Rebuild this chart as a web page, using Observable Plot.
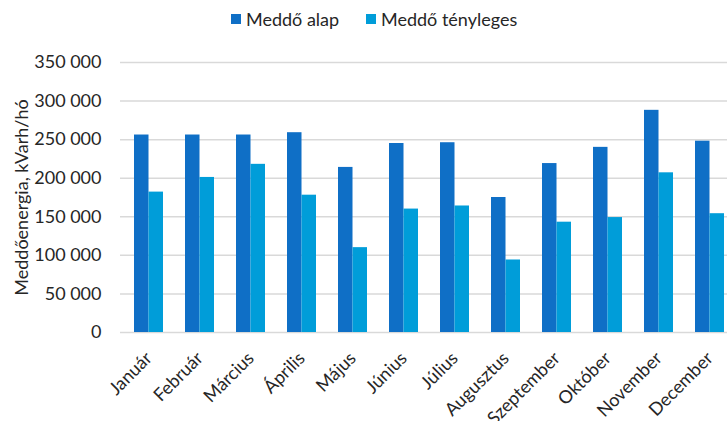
<!DOCTYPE html>
<html>
<head>
<meta charset="utf-8">
<script src="https://cdn.jsdelivr.net/npm/d3@7"></script>
<script src="https://cdn.jsdelivr.net/npm/@observablehq/plot@0.6"></script>
<style>
  html, body { margin: 0; padding: 0; background: #fff; overflow: hidden; }
  #wrap { width: 727px; height: 421px; overflow: hidden; position: relative; font-family: Lato, "Open Sans", sans-serif; }
  #legend { height: 40px; position: relative; font-size: 18px; color: #262626; }
  .sw { display: inline-block; width: 10px; height: 10px; margin-right: 5px; }
  .item { display: flex; align-items: center; position: absolute; top: 8px; }
  #chart svg { display: block; overflow: hidden; max-width: none !important; }
</style>
</head>
<body>
<div id="wrap">
  <div id="legend"></div>
  <div id="chart"></div>
</div>
<script>
const months = ["Január","Február","Március","Április","Május","Június","Július","Augusztus","Szeptember","Október","November","December"];
const seriesNames = ["Meddő alap","Meddő tényleges"];
const alap = [256000,256000,256000,259000,214000,245000,246000,175000,219000,240000,288000,248000];
const tenyleges = [182000,201000,218000,178000,110000,160000,164000,94000,143000,149000,207000,154000];
const yTicks = [0,50000,100000,150000,200000,250000,300000,350000];
const colors = ["#0F6FC6","#009DD9"];
const yLabel = "Meddőenergia, kVarh/hó";

const rows = months.map((m, i) => ({month: m, alap: alap[i], tenyleges: tenyleges[i]}));

const fmt = d3.formatLocale({decimal: ",", thousands: " ", grouping: [3], currency: ["", ""]}).format(",d");

// legend
const legend = document.getElementById("legend");
const legendX = [231, 366];
seriesNames.forEach((name, i) => {
  const it = document.createElement("div");
  it.className = "item";
  it.style.left = legendX[i] + "px";
  it.innerHTML = `<span class="sw" style="background:${colors[i]}"></span><span>${name}</span>`;
  legend.appendChild(it);
});

const W = 738;
const inner = 0.436;
const chart = Plot.plot({
  width: W,
  height: 381,
  marginLeft: 120,
  marginRight: 0,
  marginTop: 22,
  marginBottom: 89,
  style: {fontFamily: "Lato, 'Open Sans', sans-serif", fontSize: "18px", color: "#262626", background: "#fff", maxWidth: "none"},
  x: {type: "band", domain: months, paddingInner: inner, paddingOuter: inner / 2},
  y: {domain: [0, 350000]},
  marks: [
    Plot.gridY(yTicks, {stroke: "#d9d9d9", strokeOpacity: 1, strokeWidth: 1.5}),
    Plot.barY(rows, {x: "month", y: "alap", fill: colors[0], insetRight: 14.5}),
    Plot.barY(rows, {x: "month", y: "tenyleges", fill: colors[1], insetLeft: 14.5}),
    Plot.axisY(yTicks, {tickSize: 0, tickPadding: 19, tickFormat: fmt, label: null, fontSize: 18, fill: "#262626"}),
    Plot.axisX({tickSize: 0, tickRotate: -45, textAnchor: "end", label: null, fontSize: 18, fill: "#262626", dx: 0, dy: 11}),
    Plot.text([yLabel], {frameAnchor: "left", textAnchor: "middle", rotate: -90, dx: -98, dy: 0, fontSize: 18, fill: "#262626"})
  ]
});
document.getElementById("chart").appendChild(chart);
</script>
</body>
</html>
